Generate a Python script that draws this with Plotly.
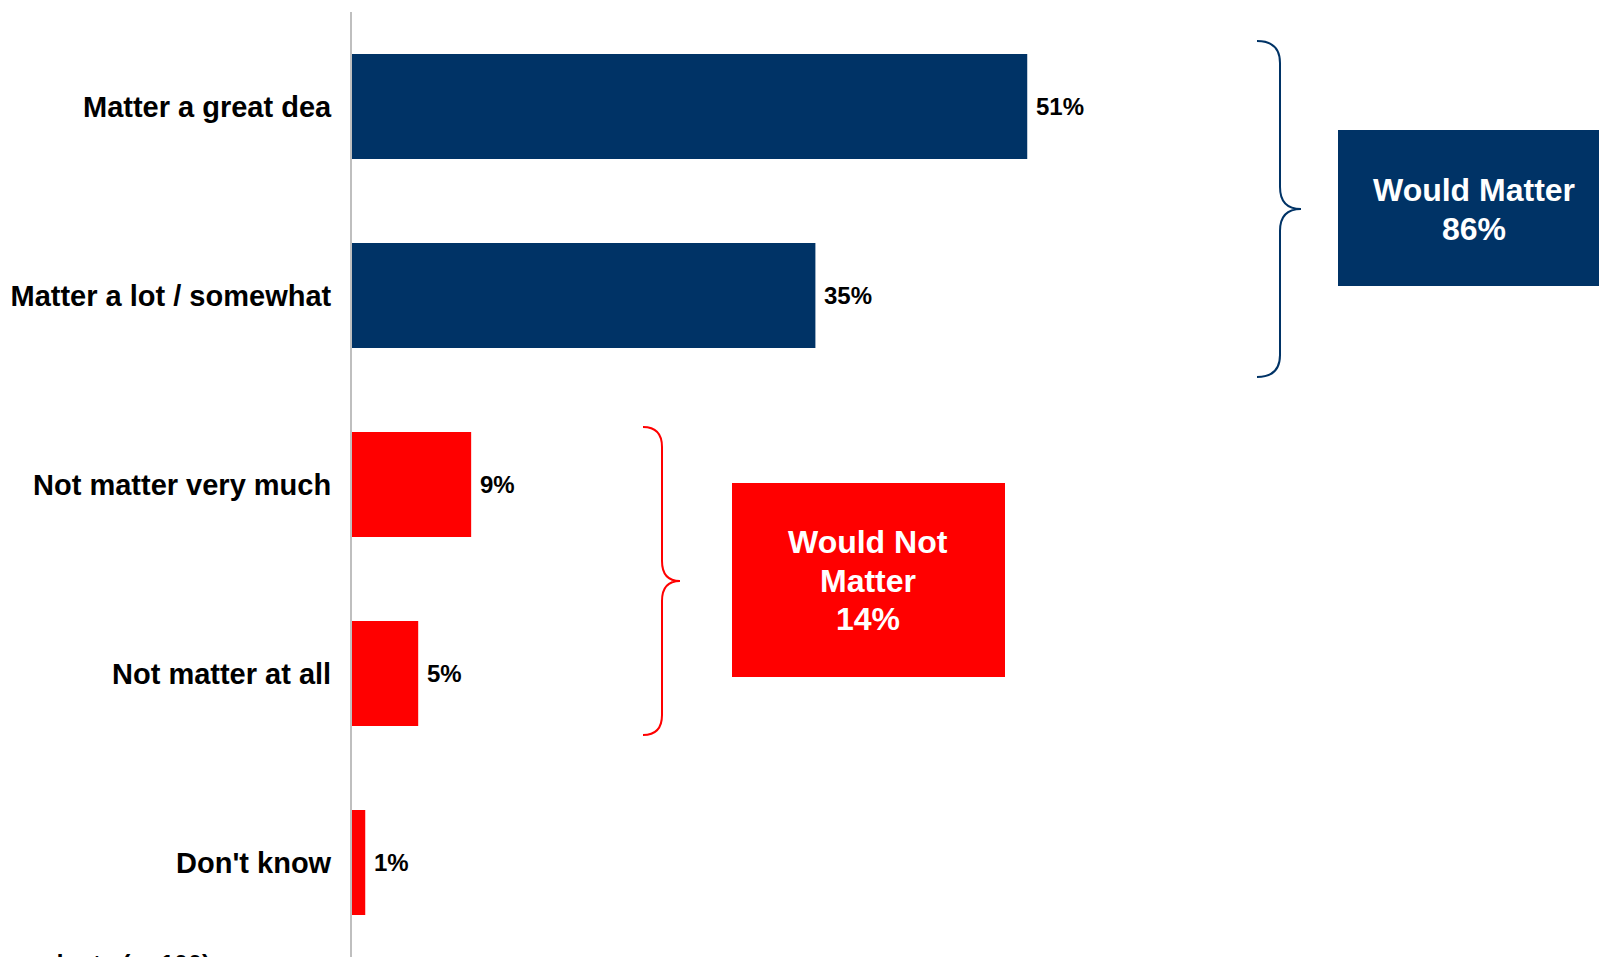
import plotly.graph_objects as go

categories = ["Matter a great dea", "Matter a lot / somewhat", "Not matter very much",
              "Not matter at all", "Don't know"]
values = [51, 35, 9, 5, 1]
value_labels = ["51%", "35%", "9%", "5%", "1%"]
bar_colors = ["#003366", "#003366", "#FF0000", "#FF0000", "#FF0000"]

group_lines = [["Would Matter", "86%"], ["Would Not", "Matter", "14%"]]
group_colors = ["#003366", "#FF0000"]
base_note = "Base: All respondents (n=100)"

W, H = 1599, 957
L, R, T, B = 352, 0, 12, 0
PW, PH = W - L - R, H - T - B
FONT = "Liberation Sans, Arial, sans-serif"


def px(x):
    return (x - L) / PW


def py(y):
    return (H - B - y) / PH


fig = go.Figure()
fig.add_trace(go.Bar(
    y=categories, x=values, orientation="h",
    marker=dict(color=bar_colors, line=dict(width=0)),
    hoverinfo="skip", showlegend=False,
))

annotations = []
for c, v, t in zip(categories, values, value_labels):
    annotations.append(dict(
        x=v, y=c, xref="x", yref="y", text="<b>%s</b>" % t, showarrow=False,
        xanchor="left", yanchor="middle", xshift=7,
        font=dict(family=FONT, size=24, color="#000000"),
    ))

shapes = []


def brace(x0, xs, xp, y0, ym, y1, r, color):
    p = lambda x, y: "%.5f,%.5f" % (px(x), py(y))
    path = ("M " + p(x0, y0) + " Q " + p(xs, y0) + " " + p(xs, y0 + r) +
            " L " + p(xs, ym - r) + " Q " + p(xs, ym) + " " + p(xp, ym) +
            " Q " + p(xs, ym) + " " + p(xs, ym + r) +
            " L " + p(xs, y1 - r) + " Q " + p(xs, y1) + " " + p(x0, y1))
    shapes.append(dict(type="path", path=path, xref="paper", yref="paper",
                       line=dict(color=color, width=2)))


brace(1257, 1280, 1301, 41, 209, 377, 22, group_colors[0])
brace(643, 662, 680, 427, 581, 735, 20, group_colors[1])

# box extents (page px) and text placement (centre x, first line y, line step)
boxes = [(1338, 1620, 130, 286), (732, 1005, 483, 677)]
text_pos = [(1474, 190, 39), (868, 542, 38.5)]
for (bx0, bx1, by0, by1), (tx, ty, step), col, lines in zip(boxes, text_pos, group_colors, group_lines):
    shapes.append(dict(type="rect", xref="paper", yref="paper",
                       x0=px(bx0), x1=px(bx1), y0=py(by1), y1=py(by0),
                       fillcolor=col, line=dict(width=0), layer="above"))
    for i, ln in enumerate(lines):
        annotations.append(dict(
            x=px(tx), y=py(ty + i * step), xref="paper", yref="paper",
            text="<b>%s</b>" % ln, showarrow=False, xanchor="center", yanchor="middle",
            font=dict(family=FONT, size=32, color="#FFFFFF"),
        ))

annotations.append(dict(
    x=px(212), y=py(964), xref="paper", yref="paper", text="<b>%s</b>" % base_note,
    showarrow=False, xanchor="right", yanchor="middle",
    font=dict(family=FONT, size=25, color="#000000"),
))

fig.update_layout(
    width=W, height=H,
    margin=dict(l=L, r=R, t=T, b=B, pad=0),
    paper_bgcolor="white", plot_bgcolor="white",
    bargap=0.444,
    xaxis=dict(range=[0, PW / 13.24], visible=False, showgrid=False, zeroline=False),
    yaxis=dict(autorange="reversed", showgrid=False, zeroline=False,
               showline=True, linecolor="#BFBFBF", linewidth=2,
               ticks="", ticklabelstandoff=13,
               tickfont=dict(family=FONT, size=29, color="#000000"),
               tickvals=categories,
               ticktext=["<b>%s</b>" % c for c in categories]),
    shapes=shapes, annotations=annotations,
)

fig.write_html(
    "out.html",
    config={"displayModeBar": False},
    post_script="document.body.style.margin='0';document.body.style.overflow='hidden';"
                "document.documentElement.style.overflow='hidden';",
)
